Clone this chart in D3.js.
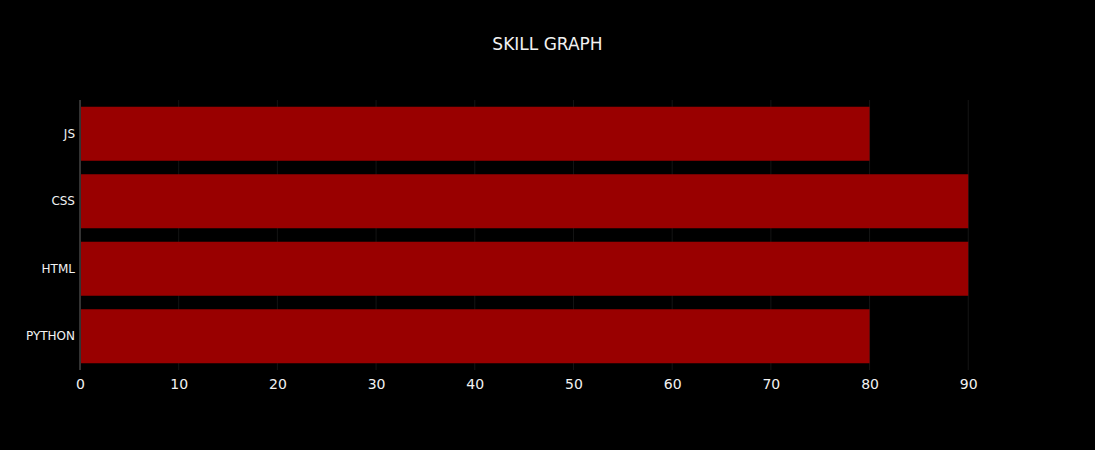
<!DOCTYPE html>
<html><head><meta charset="utf-8">
<script src="https://cdn.jsdelivr.net/npm/d3@7"></script>
<style>html,body{margin:0;padding:0;background:#000;}svg{display:block;}</style>
</head><body>
<script>
const categories = ["PYTHON", "HTML", "CSS", "JS"];
const values = [80, 90, 90, 80];
const xTicks = [0, 10, 20, 30, 40, 50, 60, 70, 80, 90];
const title = "SKILL GRAPH";

const W = 1095, H = 450;
const m = {l: 80, r: 80, t: 100, b: 80};
const font = "Verdana, 'DejaVu Sans', sans-serif";
const svg = d3.select("body").append("svg").attr("width", W).attr("height", H)
  .style("background", "#000");

const x = d3.scaleLinear().domain([0, 90 / 0.95]).range([m.l, W - m.r]);
const y = d3.scaleBand().domain(categories.slice().reverse()).range([m.t, H - m.b]).paddingInner(0.2).paddingOuter(0.1);

// gridlines
svg.append("g").selectAll("line").data(xTicks.filter(d => d > 0)).join("line")
  .attr("x1", d => x(d)).attr("x2", d => x(d))
  .attr("y1", m.t).attr("y2", H - m.b)
  .attr("stroke", "#141414").attr("stroke-width", 1);

// bars
svg.append("g").selectAll("rect").data(categories).join("rect")
  .attr("x", x(0)).attr("y", d => y(d))
  .attr("width", (d, i) => x(values[i]) - x(0))
  .attr("height", y.bandwidth())
  .attr("fill", "#990000");

// zero line
svg.append("line").attr("x1", x(0)).attr("x2", x(0)).attr("y1", m.t).attr("y2", H - m.b)
  .attr("stroke", "#333").attr("stroke-width", 2);

// x axis
const xa = svg.append("g").attr("transform", `translate(0,${H - m.b})`)
  .call(d3.axisBottom(x).tickValues(xTicks).tickSize(0).tickPadding(9));
xa.select(".domain").remove();
xa.selectAll("text").attr("fill", "#f2f2f2").style("font-family", font).style("font-size", "14px");

// y axis
const ya = svg.append("g").attr("transform", `translate(${m.l},0)`)
  .call(d3.axisLeft(y).tickSize(0).tickPadding(5));
ya.select(".domain").remove();
ya.selectAll("text").attr("fill", "#f2f2f2").style("font-family", font).style("font-size", "12px");

// title
svg.append("text").attr("x", W / 2).attr("y", 50).attr("text-anchor", "middle")
  .attr("fill", "#f2f2f2").style("font-family", font).style("font-size", "17px").text(title);
</script>
</body></html>
